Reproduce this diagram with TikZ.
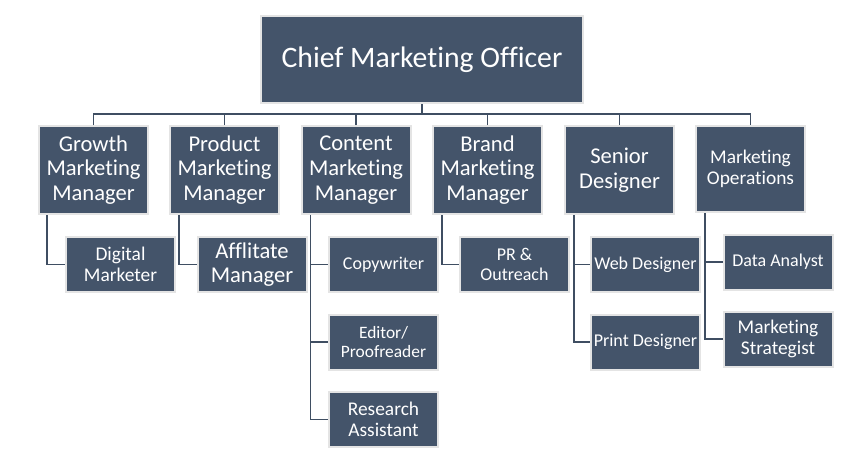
\documentclass[tikz,border=0pt]{standalone}
\usepackage{fontspec}
\setmainfont[Ligatures=NoCommon]{Carlito}
\definecolor{boxfill}{HTML}{44546A}
\definecolor{boxline}{HTML}{E4E4E4}
\definecolor{wire}{HTML}{3F4E62}
\begin{document}
\begin{tikzpicture}[x=1pt,y=-1pt,
  orgbox/.style={rectangle, fill=boxfill, draw=boxline, line width=2pt, text=white,
    align=center, inner sep=0pt},
  topbox/.style={orgbox, minimum width=322pt, minimum height=87pt,
    font=\fontsize{29.7}{33}\selectfont},
  headbox/.style={orgbox, minimum width=109pt, minimum height=88pt},
  kidbox/.style={orgbox, minimum width=109pt, minimum height=55pt},
  big/.style={font=\fontsize{22.6}{24.7}\selectfont},
  mid/.style={font=\fontsize{19.4}{21.5}\selectfont},
  small/.style={font=\fontsize{18}{20}\selectfont},
  wireline/.style={draw=wire, line width=1.6pt}]
\useasboundingbox (0,0) rectangle (866,466);
\coordinate (bus) at (0,114);
% top
\node[topbox] (cmo) at (422,59.5) {Chief Marketing Officer};
% level 1
\node[headbox,big] (gm) at (93.5,170) {Growth\\Marketing\\Manager};
\node[headbox,big] (pm) at (224.5,170) {Product\\Marketing\\Manager};
\node[headbox,big] (cm) at (356,170) {Content\\Marketing\\Manager};
\node[headbox,big] (bm) at (487.5,170) {Brand\\Marketing\\Manager};
\node[headbox,big] (sd) at (619.5,170) {Senior\\Designer};
\node[headbox,mid,minimum height=86pt] (mo) at (750.5,169) {Marketing\\Operations};
% level 2
\node[kidbox,mid] (dm) at (120.5,264.5) {Digital\\Marketer};
\node[kidbox,big] (am) at (252,264.5) {Afflitate\\Manager};
\node[kidbox,small] (cw) at (383.5,264.5) {Copywriter};
\node[kidbox,font=\fontsize{17.4}{19.5}\selectfont] (ep) at (383.5,342) {Editor/\\Proofreader};
\node[kidbox,mid] (ra) at (383.5,419.5) {Research\\Assistant};
\node[kidbox,small] (pr) at (514.5,264.5) {PR \&\\Outreach};
\node[kidbox,small] (wd) at (645.5,264.5) {Web Designer};
\node[kidbox,small] (pd) at (645.5,342) {Print Designer};
\node[kidbox,small] (da) at (778,262) {Data Analyst};
\node[kidbox,mid] (ms) at (778,339) {Marketing\\Strategist};
% bus connectors
\draw[wireline] (cmo.south) -- (cmo.south |- bus);
\draw[wireline] (gm.north) -- (gm.north |- bus) -- (mo.north |- bus) -- (mo.north);
\foreach \n in {pm,cm,bm,sd} \draw[wireline] (\n.north) -- (\n.north |- bus);
% child connectors
\draw[wireline] ([xshift=9pt]gm.south west) |- (dm.west);
\draw[wireline] ([xshift=10pt]pm.south west) |- (am.west);
\draw[wireline] ([xshift=10pt]cm.south west) |- (cw.west);
\draw[wireline] ([xshift=10pt]cm.south west) |- (ep.west);
\draw[wireline] ([xshift=10pt]cm.south west) |- (ra.west);
\draw[wireline] ([xshift=10pt]bm.south west) |- (pr.west);
\draw[wireline] ([xshift=10pt]sd.south west) |- (wd.west);
\draw[wireline] ([xshift=10pt]sd.south west) |- (pd.west);
\draw[wireline] ([xshift=10pt]mo.south west) |- (da.west);
\draw[wireline] ([xshift=10pt]mo.south west) |- (ms.west);
\end{tikzpicture}
\end{document}
